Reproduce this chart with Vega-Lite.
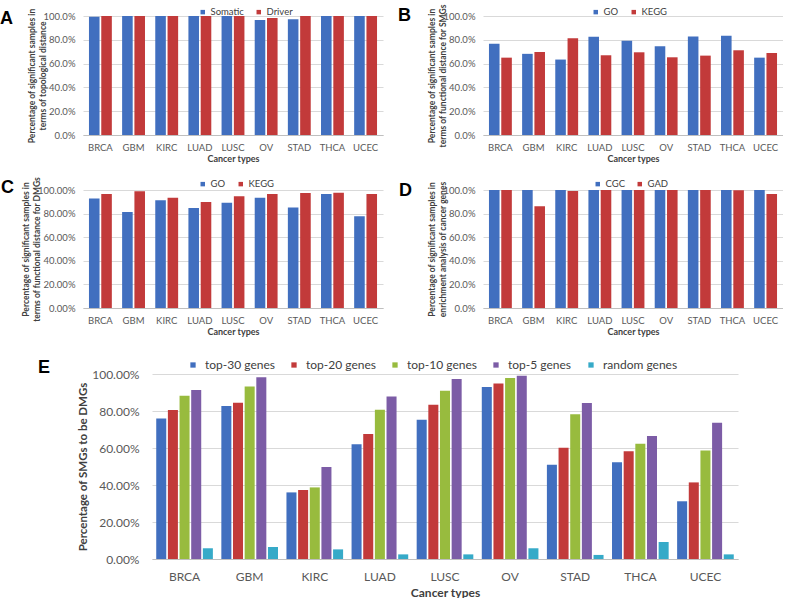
{
  "$schema": "https://vega.github.io/schema/vega-lite/v6.json",
  "background": "white",
  "padding": {"left": 0, "top": 3, "right": 0, "bottom": 0},
  "autosize": {"type": "pad"},
  "datasets": {
    "dA": [
      {"cancer": "BRCA", "series": "Somatic", "pct": 0.993}, {"cancer": "BRCA", "series": "Driver", "pct": 1.0},
      {"cancer": "GBM", "series": "Somatic", "pct": 1.0}, {"cancer": "GBM", "series": "Driver", "pct": 1.0},
      {"cancer": "KIRC", "series": "Somatic", "pct": 1.0}, {"cancer": "KIRC", "series": "Driver", "pct": 1.0},
      {"cancer": "LUAD", "series": "Somatic", "pct": 1.0}, {"cancer": "LUAD", "series": "Driver", "pct": 1.0},
      {"cancer": "LUSC", "series": "Somatic", "pct": 1.0}, {"cancer": "LUSC", "series": "Driver", "pct": 1.0},
      {"cancer": "OV", "series": "Somatic", "pct": 0.966}, {"cancer": "OV", "series": "Driver", "pct": 0.983},
      {"cancer": "STAD", "series": "Somatic", "pct": 0.972}, {"cancer": "STAD", "series": "Driver", "pct": 1.0},
      {"cancer": "THCA", "series": "Somatic", "pct": 1.0}, {"cancer": "THCA", "series": "Driver", "pct": 1.0},
      {"cancer": "UCEC", "series": "Somatic", "pct": 1.0}, {"cancer": "UCEC", "series": "Driver", "pct": 1.0}
    ],
    "dB": [
      {"cancer": "BRCA", "series": "GO", "pct": 0.766}, {"cancer": "BRCA", "series": "KEGG", "pct": 0.650},
      {"cancer": "GBM", "series": "GO", "pct": 0.682}, {"cancer": "GBM", "series": "KEGG", "pct": 0.698},
      {"cancer": "KIRC", "series": "GO", "pct": 0.634}, {"cancer": "KIRC", "series": "KEGG", "pct": 0.813},
      {"cancer": "LUAD", "series": "GO", "pct": 0.825}, {"cancer": "LUAD", "series": "KEGG", "pct": 0.670},
      {"cancer": "LUSC", "series": "GO", "pct": 0.793}, {"cancer": "LUSC", "series": "KEGG", "pct": 0.695},
      {"cancer": "OV", "series": "GO", "pct": 0.745}, {"cancer": "OV", "series": "KEGG", "pct": 0.653},
      {"cancer": "STAD", "series": "GO", "pct": 0.828}, {"cancer": "STAD", "series": "KEGG", "pct": 0.667},
      {"cancer": "THCA", "series": "GO", "pct": 0.834}, {"cancer": "THCA", "series": "KEGG", "pct": 0.712},
      {"cancer": "UCEC", "series": "GO", "pct": 0.650}, {"cancer": "UCEC", "series": "KEGG", "pct": 0.689}
    ],
    "dC": [
      {"cancer": "BRCA", "series": "GO", "pct": 0.927}, {"cancer": "BRCA", "series": "KEGG", "pct": 0.966},
      {"cancer": "GBM", "series": "GO", "pct": 0.814}, {"cancer": "GBM", "series": "KEGG", "pct": 0.989},
      {"cancer": "KIRC", "series": "GO", "pct": 0.913}, {"cancer": "KIRC", "series": "KEGG", "pct": 0.935},
      {"cancer": "LUAD", "series": "GO", "pct": 0.848}, {"cancer": "LUAD", "series": "KEGG", "pct": 0.899},
      {"cancer": "LUSC", "series": "GO", "pct": 0.893}, {"cancer": "LUSC", "series": "KEGG", "pct": 0.946},
      {"cancer": "OV", "series": "GO", "pct": 0.935}, {"cancer": "OV", "series": "KEGG", "pct": 0.966},
      {"cancer": "STAD", "series": "GO", "pct": 0.851}, {"cancer": "STAD", "series": "KEGG", "pct": 0.975},
      {"cancer": "THCA", "series": "GO", "pct": 0.966}, {"cancer": "THCA", "series": "KEGG", "pct": 0.977},
      {"cancer": "UCEC", "series": "GO", "pct": 0.777}, {"cancer": "UCEC", "series": "KEGG", "pct": 0.966}
    ],
    "dD": [
      {"cancer": "BRCA", "series": "CGC", "pct": 1.0}, {"cancer": "BRCA", "series": "GAD", "pct": 1.0},
      {"cancer": "GBM", "series": "CGC", "pct": 1.0}, {"cancer": "GBM", "series": "GAD", "pct": 0.863},
      {"cancer": "KIRC", "series": "CGC", "pct": 1.0}, {"cancer": "KIRC", "series": "GAD", "pct": 0.992},
      {"cancer": "LUAD", "series": "CGC", "pct": 1.0}, {"cancer": "LUAD", "series": "GAD", "pct": 1.0},
      {"cancer": "LUSC", "series": "CGC", "pct": 1.0}, {"cancer": "LUSC", "series": "GAD", "pct": 1.0},
      {"cancer": "OV", "series": "CGC", "pct": 1.0}, {"cancer": "OV", "series": "GAD", "pct": 1.0},
      {"cancer": "STAD", "series": "CGC", "pct": 1.0}, {"cancer": "STAD", "series": "GAD", "pct": 1.0},
      {"cancer": "THCA", "series": "CGC", "pct": 1.0}, {"cancer": "THCA", "series": "GAD", "pct": 0.998},
      {"cancer": "UCEC", "series": "CGC", "pct": 1.0}, {"cancer": "UCEC", "series": "GAD", "pct": 0.966}
    ],
    "dE": [
      {"cancer": "BRCA", "series": "top-30 genes", "pct": 0.759}, {"cancer": "BRCA", "series": "top-20 genes", "pct": 0.805}, {"cancer": "BRCA", "series": "top-10 genes", "pct": 0.883}, {"cancer": "BRCA", "series": "top-5 genes", "pct": 0.914}, {"cancer": "BRCA", "series": "random genes", "pct": 0.058},
      {"cancer": "GBM", "series": "top-30 genes", "pct": 0.827}, {"cancer": "GBM", "series": "top-20 genes", "pct": 0.845}, {"cancer": "GBM", "series": "top-10 genes", "pct": 0.933}, {"cancer": "GBM", "series": "top-5 genes", "pct": 0.982}, {"cancer": "GBM", "series": "random genes", "pct": 0.065},
      {"cancer": "KIRC", "series": "top-30 genes", "pct": 0.360}, {"cancer": "KIRC", "series": "top-20 genes", "pct": 0.373}, {"cancer": "KIRC", "series": "top-10 genes", "pct": 0.387}, {"cancer": "KIRC", "series": "top-5 genes", "pct": 0.497}, {"cancer": "KIRC", "series": "random genes", "pct": 0.052},
      {"cancer": "LUAD", "series": "top-30 genes", "pct": 0.620}, {"cancer": "LUAD", "series": "top-20 genes", "pct": 0.676}, {"cancer": "LUAD", "series": "top-10 genes", "pct": 0.807}, {"cancer": "LUAD", "series": "top-5 genes", "pct": 0.879}, {"cancer": "LUAD", "series": "random genes", "pct": 0.025},
      {"cancer": "LUSC", "series": "top-30 genes", "pct": 0.753}, {"cancer": "LUSC", "series": "top-20 genes", "pct": 0.834}, {"cancer": "LUSC", "series": "top-10 genes", "pct": 0.910}, {"cancer": "LUSC", "series": "top-5 genes", "pct": 0.973}, {"cancer": "LUSC", "series": "random genes", "pct": 0.025},
      {"cancer": "OV", "series": "top-30 genes", "pct": 0.930}, {"cancer": "OV", "series": "top-20 genes", "pct": 0.948}, {"cancer": "OV", "series": "top-10 genes", "pct": 0.978}, {"cancer": "OV", "series": "top-5 genes", "pct": 0.991}, {"cancer": "OV", "series": "random genes", "pct": 0.058},
      {"cancer": "STAD", "series": "top-30 genes", "pct": 0.510}, {"cancer": "STAD", "series": "top-20 genes", "pct": 0.602}, {"cancer": "STAD", "series": "top-10 genes", "pct": 0.782}, {"cancer": "STAD", "series": "top-5 genes", "pct": 0.843}, {"cancer": "STAD", "series": "random genes", "pct": 0.022},
      {"cancer": "THCA", "series": "top-30 genes", "pct": 0.523}, {"cancer": "THCA", "series": "top-20 genes", "pct": 0.582}, {"cancer": "THCA", "series": "top-10 genes", "pct": 0.623}, {"cancer": "THCA", "series": "top-5 genes", "pct": 0.665}, {"cancer": "THCA", "series": "random genes", "pct": 0.092},
      {"cancer": "UCEC", "series": "top-30 genes", "pct": 0.312}, {"cancer": "UCEC", "series": "top-20 genes", "pct": 0.414}, {"cancer": "UCEC", "series": "top-10 genes", "pct": 0.587}, {"cancer": "UCEC", "series": "top-5 genes", "pct": 0.737}, {"cancer": "UCEC", "series": "random genes", "pct": 0.025}
    ]
  },
  "resolve": {"scale": {"color": "independent", "xOffset": "independent", "x": "independent", "y": "independent"}, "legend": {"color": "independent"}},
  "vconcat": [
    {
      "resolve": {"scale": {"color": "independent", "xOffset": "independent", "x": "independent", "y": "independent"}, "legend": {"color": "independent"}},
      "vconcat": [
        {
          "resolve": {"scale": {"color": "independent", "xOffset": "independent", "x": "independent", "y": "independent"}, "legend": {"color": "independent"}},
          "hconcat": [
            {
              "width": 300, "height": 119,
              "data": {"name": "dA"},
              "title": {"text": "A", "dx": -83, "dy": 25},
              "mark": {"type": "bar"},
              "encoding": {
                "x": {"field": "cancer", "type": "nominal", "sort": null, "scale": {"paddingInner": 0.31, "paddingOuter": 0.18}, "axis": {"title": "Cancer types"}},
                "xOffset": {"field": "series", "type": "nominal", "sort": null, "scale": {"paddingInner": 0.14, "paddingOuter": 0}},
                "y": {"field": "pct", "type": "quantitative", "scale": {"domain": [0, 1]}, "axis": {"values": [0, 0.2, 0.4, 0.6, 0.8, 1], "format": ".1%", "title": ["Percentage of significant samples in", "terms of topological distance"]}},
                "color": {"field": "series", "type": "nominal", "sort": null, "scale": {"domain": ["Somatic", "Driver"], "range": ["#416fbf", "#c23a3a"]}, "legend": {"title": null, "orient": "none", "direction": "horizontal", "legendX": 115, "legendY": -9}}
              }
            },
            {
              "width": 300, "height": 119,
              "data": {"name": "dB"},
              "title": {"text": "B", "dx": -85, "dy": 25},
              "mark": {"type": "bar"},
              "encoding": {
                "x": {"field": "cancer", "type": "nominal", "sort": null, "scale": {"paddingInner": 0.31, "paddingOuter": 0.18}, "axis": {"title": "Cancer types"}},
                "xOffset": {"field": "series", "type": "nominal", "sort": null, "scale": {"paddingInner": 0.14, "paddingOuter": 0}},
                "y": {"field": "pct", "type": "quantitative", "scale": {"domain": [0, 1]}, "axis": {"values": [0, 0.2, 0.4, 0.6, 0.8, 1], "format": ".1%", "title": ["Percentage of significant samples in", "terms of functional distance for SMGs"]}},
                "color": {"field": "series", "type": "nominal", "sort": null, "scale": {"domain": ["GO", "KEGG"], "range": ["#416fbf", "#c23a3a"]}, "legend": {"title": null, "orient": "none", "direction": "horizontal", "legendX": 108, "legendY": -9}}
              }
            }
          ],
          "spacing": 100, "bounds": "flush"
        },
        {
          "resolve": {"scale": {"color": "independent", "xOffset": "independent", "x": "independent", "y": "independent"}, "legend": {"color": "independent"}},
          "hconcat": [
            {
              "width": 300, "height": 118,
              "data": {"name": "dC"},
              "title": {"text": "C", "dx": -82, "dy": 25},
              "mark": {"type": "bar"},
              "encoding": {
                "x": {"field": "cancer", "type": "nominal", "sort": null, "scale": {"paddingInner": 0.31, "paddingOuter": 0.18}, "axis": {"title": "Cancer types"}},
                "xOffset": {"field": "series", "type": "nominal", "sort": null, "scale": {"paddingInner": 0.14, "paddingOuter": 0}},
                "y": {"field": "pct", "type": "quantitative", "scale": {"domain": [0, 1]}, "axis": {"values": [0, 0.2, 0.4, 0.6, 0.8, 1], "format": ".2%", "title": ["Percentage of significant samples in", "terms of functional distance for DMGs"]}},
                "color": {"field": "series", "type": "nominal", "sort": null, "scale": {"domain": ["GO", "KEGG"], "range": ["#416fbf", "#c23a3a"]}, "legend": {"title": null, "orient": "none", "direction": "horizontal", "legendX": 115, "legendY": -11}}
              }
            },
            {
              "width": 300, "height": 118,
              "data": {"name": "dD"},
              "title": {"text": "D", "dx": -84, "dy": 25},
              "mark": {"type": "bar"},
              "encoding": {
                "x": {"field": "cancer", "type": "nominal", "sort": null, "scale": {"paddingInner": 0.31, "paddingOuter": 0.18}, "axis": {"title": "Cancer types"}},
                "xOffset": {"field": "series", "type": "nominal", "sort": null, "scale": {"paddingInner": 0.14, "paddingOuter": 0}},
                "y": {"field": "pct", "type": "quantitative", "scale": {"domain": [0, 1]}, "axis": {"values": [0, 0.2, 0.4, 0.6, 0.8, 1], "format": ".1%", "title": ["Percentage of significant samples in", "enrichment analysis of cancer genes"]}},
                "color": {"field": "series", "type": "nominal", "sort": null, "scale": {"domain": ["CGC", "GAD"], "range": ["#416fbf", "#c23a3a"]}, "legend": {"title": null, "orient": "none", "direction": "horizontal", "legendX": 110, "legendY": -11}}
              }
            }
          ],
          "spacing": 100, "bounds": "flush"
        }
      ],
      "spacing": 12
    },
    {
      "resolve": {"scale": {"color": "independent", "xOffset": "independent", "x": "independent", "y": "independent"}, "legend": {"color": "independent"}},
      "hconcat": [
        {"width": 69, "height": 1, "data": {"values": []}, "mark": "point"},
        {
          "width": 586, "height": 185,
          "data": {"name": "dE"},
          "title": {"text": "E", "dx": -114, "dy": 22},
          "mark": {"type": "bar"},
          "encoding": {
            "x": {"field": "cancer", "type": "nominal", "sort": null, "scale": {"paddingInner": 0.13, "paddingOuter": 0.065}, "axis": {"title": "Cancer types", "labelFontSize": 12, "labelPadding": 12, "titleFontSize": 12, "titlePadding": 5}},
            "xOffset": {"field": "series", "type": "nominal", "sort": null, "scale": {"paddingInner": 0.14, "paddingOuter": 0}},
            "y": {"field": "pct", "type": "quantitative", "scale": {"domain": [0, 1]}, "axis": {"values": [0, 0.2, 0.4, 0.6, 0.8, 1], "format": ".2%", "title": "Percentage of SMGs to be DMGs", "labelFontSize": 12, "labelPadding": 13, "titleFontSize": 11.5, "titlePadding": 3}},
            "color": {"field": "series", "type": "nominal", "sort": null, "scale": {"domain": ["top-30 genes", "top-20 genes", "top-10 genes", "top-5 genes", "random genes"], "range": ["#416fbf", "#c23a3a", "#98bb3e", "#7c5ca6", "#36aac8"]}, "legend": {"title": null, "orient": "none", "direction": "horizontal", "legendX": 35, "legendY": -15, "labelFontSize": 12, "symbolSize": 28, "columnPadding": 13, "labelOffset": 6}}
          }
        }
      ],
      "spacing": 0, "bounds": "flush"
    }
  ],
  "spacing": 22,
  "config": {
    "font": "Lato",
    "view": {"stroke": null},
    "title": {"font": "Liberation Sans", "fontSize": 18, "fontWeight": "bold", "color": "#000000", "anchor": "start", "frame": "group", "offset": 0},
    "axis": {"labelColor": "#595959", "titleColor": "#404040", "ticks": false, "gridColor": "#d9d9d9", "domainColor": "#bfbfbf", "labelFontSize": 9.5, "titleFontSize": 9, "titleFontWeight": "bold"},
    "axisX": {"grid": false, "labelAngle": 0, "labelPadding": 7, "titlePadding": 3},
    "axisY": {"domain": false, "grid": true, "labelPadding": 8, "titleFontSize": 8.5, "titleLineHeight": 11, "titlePadding": -4},
    "legend": {"symbolType": "square", "labelColor": "#404040", "labelFontSize": 9.5, "symbolSize": 20, "columnPadding": 10, "labelOffset": 3, "symbolStrokeWidth": 0}
  }
}
